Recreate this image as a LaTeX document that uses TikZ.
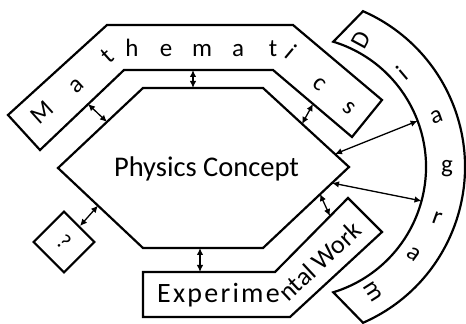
\documentclass[tikz,border=0pt]{standalone}
\usepackage{fontspec}
\setmainfont{Carlito}
\usetikzlibrary{arrows.meta}
\begin{document}
\begin{tikzpicture}[x=1pt,y=1pt,every node/.style={inner sep=0pt},
  outline/.style={line width=2.2pt,line join=miter},
  link/.style={line width=1.3pt,{Latex[length=7pt,width=6.5pt]}-{Latex[length=7pt,width=6.5pt]}},
  lett/.style={font=\fontsize{25}{25}\selectfont,text height=12pt,text depth=0pt}]
\useasboundingbox (0,0) rectangle (466,324);
% concept
\draw[outline] (58,156)--(143,236)--(263,236)--(349,157)--(263,76)--(143,76)--cycle;
\node[font=\fontsize{28.5}{30}\selectfont,anchor=base] (pc) at (206.5,147) {Physics Concept};
% mathematics
\draw[outline] (8,209)--(107,299)--(293,299)--(382,224)--(352,187)--(273,254)--(124,254)--(40,174)--cycle;
\foreach \ch/\px/\py/\rot [count=\i] in {M/43/210/42,a/77/238/42,t/109/267/42,h/132/273/0,e/166/273/0,m/202/273/0,a/238/273/0,t/273/273/0,i/290/270/-40,c/319/240/-40,s/349/216/-40}
  \node[lett,rotate=\rot] (m\i) at (\px,\py) {\ch};
% diagram
\coordinate (ctr) at (295,157);
\draw[outline] ([shift={(73:131)}]ctr) arc[start angle=73,end angle=-73,radius=131]
  -- ([shift={(-66.4:170)}]ctr) arc[start angle=-66.4,end angle=66.4,radius=170] -- cycle;
\foreach \ch/\ang/\rad [count=\i] in {D/61.6/143,i/40.2/143,a/19.5/150,g/0/152,r/-19.8/151,a/-36.2/147,m/-57.8/147}
  \node[lett,rotate=\ang] (d\i) at ([shift={(\ang:\rad)}]ctr) {\ch};
% experimental work
\draw[outline] (143,52)--(275,52)--(348,126)--(382,92)--(290,7)--(143,7)--cycle;
\node[font=\fontsize{28}{30}\selectfont\addfontfeature{LetterSpace=8},anchor=base west] (ex1) at (157,21) {Experime};
\node[font=\fontsize{26}{28}\selectfont,anchor=base west,rotate=43] (ex2) at (288,21) {ntal Work};
% unknown
\node[draw,outline,rotate=-45,minimum size=43pt,font=\fontsize{22}{22}\selectfont] (q) at (64,82) {?};
% links
\coordinate (s1) at (193,254); \coordinate (t1) at (193,236);
\coordinate (s2) at (88,220);  \coordinate (t2) at (107,202);
\coordinate (s3) at (313,220); \coordinate (t3) at (302,200);
\coordinate (s4) at ([shift={(20.6:131)}]ctr); \coordinate (t4) at (335,170);
\coordinate (s5) at ([shift={(-15:131)}]ctr);  \coordinate (t5) at (332,141);
\coordinate (s6) at (330,108); \coordinate (t6) at (320,130);
\coordinate (s7) at (200,52);  \coordinate (t7) at (200,76);
\coordinate (t8) at (98,118.4);
\foreach \a/\b in {s1/t1,s2/t2,s3/t3,s4/t4,s5/t5,s6/t6,s7/t7,q.north/t8}
  \draw[link] (\a)--(\b);
\end{tikzpicture}
\end{document}
